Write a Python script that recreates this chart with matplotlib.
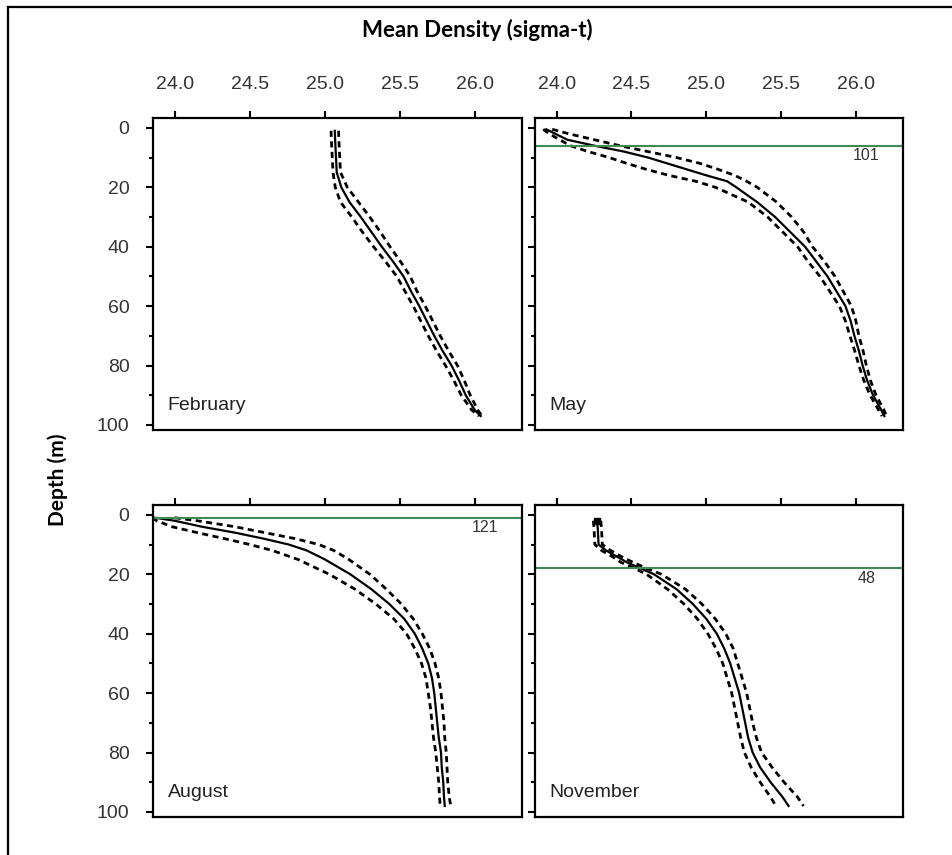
import matplotlib.pyplot as plt
from matplotlib.lines import Line2D
from matplotlib.ticker import MultipleLocator

# February profile
feb_depth = [1, 5, 10, 15, 20, 25, 30, 35, 40, 45, 50, 55, 60, 65, 70, 75, 80, 85, 90, 95, 97]
feb_mean = [25.067, 25.07, 25.075, 25.08, 25.11, 25.165, 25.24, 25.31, 25.38, 25.455, 25.525,
            25.575, 25.63, 25.68, 25.73, 25.785, 25.845, 25.895, 25.94, 26.0, 26.04]
feb_low = [25.042, 25.045, 25.05, 25.055, 25.07, 25.105, 25.18, 25.25, 25.325, 25.405, 25.48,
           25.535, 25.59, 25.64, 25.69, 25.745, 25.805, 25.86, 25.91, 25.98, 26.03]
feb_high = [25.092, 25.095, 25.10, 25.105, 25.15, 25.225, 25.30, 25.37, 25.435, 25.505, 25.57,
            25.615, 25.67, 25.72, 25.77, 25.825, 25.885, 25.93, 25.97, 26.02, 26.05]

# May profile
may_depth = [0.5, 2, 4, 6, 8, 10, 12, 14, 16, 18, 20, 25, 30, 35, 40, 45, 50, 55, 60, 65, 70,
             75, 80, 85, 90, 95, 97]
may_mean = [23.93, 23.99, 24.07, 24.25, 24.45, 24.61, 24.74, 24.87, 25.0, 25.14, 25.2, 25.34,
            25.46, 25.56, 25.66, 25.735, 25.81, 25.87, 25.93, 25.965, 25.99, 26.02, 26.045,
            26.075, 26.115, 26.17, 26.19]
may_low = [23.91, 23.95, 24.02, 24.09, 24.21, 24.35, 24.47, 24.60, 24.75, 24.93, 25.06, 25.28,
           25.41, 25.51, 25.61, 25.68, 25.76, 25.825, 25.89, 25.93, 25.96, 25.992, 26.02,
           26.053, 26.095, 26.152, 26.175]
may_high = [23.97, 24.08, 24.25, 24.42, 24.61, 24.80, 24.96, 25.08, 25.19, 25.27, 25.34, 25.47,
            25.57, 25.65, 25.71, 25.79, 25.86, 25.915, 25.97, 26.0, 26.02, 26.048, 26.07,
            26.097, 26.135, 26.188, 26.205]

# August profile
aug_depth = [1, 2, 4, 6, 8, 10, 12, 15, 20, 25, 30, 35, 40, 45, 50, 55, 60, 65, 70, 75, 80,
             85, 90, 95, 98]
aug_mean = [23.87, 24.0, 24.18, 24.40, 24.59, 24.76, 24.88, 25.0, 25.17, 25.31, 25.43, 25.53,
            25.60, 25.65, 25.69, 25.715, 25.73, 25.74, 25.75, 25.76, 25.775, 25.78, 25.79,
            25.795, 25.80]
aug_low = [23.85, 23.88, 23.98, 24.15, 24.33, 24.5, 24.65, 24.82, 25.03, 25.2, 25.34, 25.46,
           25.545, 25.6, 25.645, 25.675, 25.69, 25.705, 25.715, 25.725, 25.74, 25.75, 25.76,
           25.765, 25.77]
aug_high = [24.0, 24.15, 24.4, 24.6, 24.8, 24.96, 25.06, 25.16, 25.3, 25.41, 25.51, 25.59,
            25.65, 25.7, 25.735, 25.76, 25.775, 25.785, 25.795, 25.8, 25.81, 25.815, 25.82,
            25.83, 25.84]

# November profile
nov_depth = [2, 5, 10, 12, 14, 16, 18, 20, 25, 30, 35, 40, 45, 50, 55, 60, 65, 70, 75, 80,
             85, 90, 95, 98]
nov_mean = [24.27, 24.275, 24.28, 24.33, 24.40, 24.47, 24.56, 24.65, 24.80, 24.91, 25.0, 25.07,
            25.12, 25.16, 25.19, 25.22, 25.24, 25.26, 25.28, 25.31, 25.36, 25.43, 25.51, 25.55]
nov_low = [24.245, 24.25, 24.255, 24.30, 24.37, 24.43, 24.52, 24.60, 24.74, 24.85, 24.94, 25.01,
           25.065, 25.11, 25.14, 25.17, 25.19, 25.21, 25.23, 25.255, 25.30, 25.36, 25.43, 25.465]
nov_high = [24.295, 24.30, 24.305, 24.36, 24.43, 24.51, 24.60, 24.70, 24.86, 24.97, 25.06,
            25.13, 25.18, 25.21, 25.24, 25.27, 25.29, 25.31, 25.335, 25.37, 25.44, 25.52, 25.61,
            25.65]

months = ['February', 'May', 'August', 'November']
mld_depth = [None, 6, 1, 18]
mld_label = [None, '101', '121', '48']

W, H = 953, 855
fig = plt.figure(figsize=(W / 100, H / 100), dpi=100)
plt.rcParams['font.family'] = ['Liberation Sans', 'DejaVu Sans']

# axes boxes in pixels: left, right, top, bottom
boxes = [(153, 522, 118, 430), (535, 903, 118, 430),
         (153, 522, 505, 817), (535, 903, 505, 817)]

profiles = [(feb_depth, feb_mean, feb_low, feb_high),
            (may_depth, may_mean, may_low, may_high),
            (aug_depth, aug_mean, aug_low, aug_high),
            (nov_depth, nov_mean, nov_low, nov_high)]

for i, (l, r, t, b) in enumerate(boxes):
    ax = fig.add_axes([l / W, 1 - b / H, (r - l) / W, (b - t) / H])
    dep, mean, low, high = profiles[i]
    ax.plot(mean, dep, color='black', lw=1.6)
    ax.plot(low, dep, color='black', lw=2, linestyle=(0, (2.2, 1.6)))
    ax.plot(high, dep, color='black', lw=2, linestyle=(0, (2.2, 1.6)))
    if i == 3:
        ax.plot(mean[0], dep[0], marker='s', color='black', ms=4)
    if mld_depth[i] is not None:
        ax.axhline(mld_depth[i], color='#3f8a55', lw=1.5)
        ax.text(26.07, mld_depth[i] + 3.4, mld_label[i], ha='center', va='center',
                fontsize=11.5, color='#333333')
    ax.text(0.04, 0.08, months[i], transform=ax.transAxes, ha='left', va='center',
            fontsize=14, color='#222222')

    ax.set_xlim(23.855, 26.315)
    ax.set_ylim(101.7, -3.3)
    ax.xaxis.tick_top()
    ax.xaxis.set_major_locator(MultipleLocator(0.5))
    ax.yaxis.set_major_locator(MultipleLocator(20))
    ax.yaxis.set_minor_locator(MultipleLocator(10))
    ax.tick_params(axis='both', which='major', direction='out', length=5, width=1.5,
                   labelsize=14, labelcolor='#333333', pad=12)
    ax.tick_params(axis='y', which='minor', direction='out', length=3, width=1.5)
    ax.tick_params(axis='x', pad=13)
    ax.xaxis.set_major_formatter(plt.FormatStrFormatter('%.1f'))
    if i >= 2:
        ax.tick_params(axis='x', labeltop=False)
    if i % 2 == 1:
        ax.tick_params(axis='y', labelleft=False)
    for s in ax.spines.values():
        s.set_linewidth(1.6)

fig.text(477 / W, 1 - 30 / H, 'Mean Density (sigma-t)', ha='center', va='center',
         fontsize=16, fontweight='bold', family=['Lato', 'DejaVu Sans'])
fig.text(58 / W, 1 - 480 / H, 'Depth (m)', ha='center', va='center', rotation=90,
         fontsize=15, fontweight='bold', family=['Lato', 'DejaVu Sans'])

# outer frame (top and left edges)
fig.add_artist(Line2D([8 / W, 8 / W], [0, 1 - 7 / H], color='black', lw=1.6,
                      transform=fig.transFigure))
fig.add_artist(Line2D([8 / W, 1], [1 - 7 / H, 1 - 7 / H], color='black', lw=1.6,
                      transform=fig.transFigure))

fig.savefig('out.png', dpi=100)
